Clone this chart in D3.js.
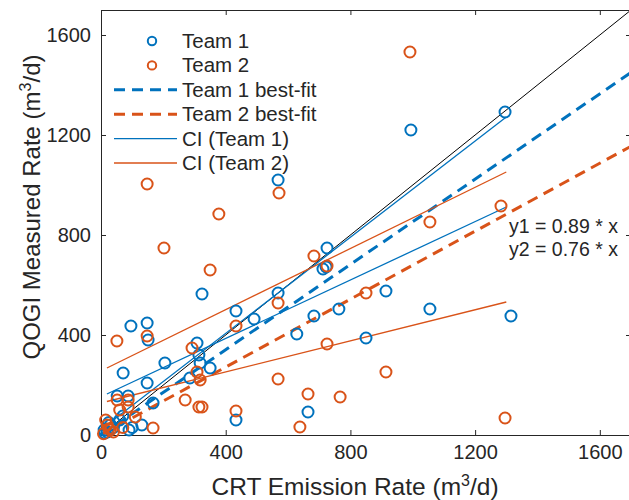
<!DOCTYPE html>
<html>
<head>
<meta charset="utf-8">
<script src="https://cdn.jsdelivr.net/npm/d3@7"></script>
<style>
  body { margin: 0; background: #fff; }
  svg text { font-family: "Liberation Sans", Arial, sans-serif; fill: #262626; }
</style>
</head>
<body>
<svg id="chart" width="629" height="500"></svg>
<script>
// axis ticks
const xTicks = [0, 400, 800, 1200, 1600];
const yTicks = [0, 400, 800, 1200, 1600];

// Team 1 measurements (CRT x, QOGI y)
const team1X = [1296, 994, 568, 725, 712, 722, 568, 324, 914, 763, 1055, 1315, 683, 433, 491, 628, 850,
  96, 148, 151, 205, 71, 148, 308, 314, 318, 350, 167, 131, 433, 664, 285,
  52, 87, 70, 30, 10, 20, 40, 60, 12, 25, 90, 100];
const team1Y = [1292, 1220, 1020, 748, 664, 672, 568, 564, 576, 504, 504, 476, 476, 496, 464, 404, 388,
  436, 448, 380, 288, 248, 208, 368, 320, 288, 268, 128, 40, 60, 92, 228,
  156, 156, 76, 40, 20, 12, 30, 60, 8, 50, 20, 30];

// Team 2 measurements
const team2X = [991, 148, 378, 202, 571, 350, 683, 725, 1055, 1283, 850, 725, 914, 767, 664, 638, 1296,
  568, 433, 433, 568, 167, 270, 314, 324, 51, 148, 292, 308, 318,
  52, 87, 87, 110, 20, 30, 40, 15, 8, 60, 70, 25];
const team2Y = [1532, 1004, 884, 748, 968, 660, 716, 676, 852, 916, 568, 364, 252, 152, 164, 32, 68,
  224, 96, 436, 528, 28, 140, 112, 112, 376, 396, 348, 252, 220,
  140, 140, 112, 72, 40, 20, 12, 60, 5, 100, 30, 25];

// fitted lines, given by their end points
const fitX = [0, 1700];
const fit1Y = [0, 1450];
const fit2Y = [0, 1155];
const oneToOneY = [0, 1700];
const ciX = [19, 1300];
const ci1UpperY = [40, 1272];
const ci1LowerY = [164, 912];
const ci2UpperY = [268, 1052];
const ci2LowerY = [134, 532];

const equations = ["y1 = 0.89 * x", "y2 = 0.76 * x"];
const legendLabels = ["Team 1", "Team 2", "Team 1 best-fit", "Team 2 best-fit", "CI (Team 1)", "CI (Team 2)"];

const blue = "#0072BD", orange = "#D95319", ink = "#262626";

const margin = {top: 10, left: 101};
const width = 530, height = 425;

const svg = d3.select("#chart");
const x = d3.scaleLinear().domain([0, 1700]).range([0, width]);
const y = d3.scaleLinear().domain([0, 1700]).range([height, 0]);

svg.append("defs").append("clipPath").attr("id", "clip")
  .append("rect").attr("width", width).attr("height", height);

const g = svg.append("g").attr("transform", `translate(${margin.left},${margin.top})`);

// axes (box with inward ticks)
const tickStyle = a => a.selectAll("path, line").attr("stroke", ink);
g.append("g").attr("transform", `translate(0,${height})`)
  .call(d3.axisBottom(x).tickValues(xTicks).tickSize(-5).tickPadding(10).tickFormat(d3.format("d")))
  .call(tickStyle)
  .selectAll("text").style("font-size", "20px").attr("fill", ink);
g.append("g")
  .call(d3.axisLeft(y).tickValues(yTicks).tickSize(-5).tickPadding(10).tickFormat(d3.format("d")))
  .call(tickStyle)
  .selectAll("text").style("font-size", "20px").attr("fill", ink);
g.append("g")
  .call(d3.axisTop(x).tickValues(xTicks).tickSize(-5).tickFormat(""))
  .call(tickStyle);
g.append("g").attr("transform", `translate(${width},0)`)
  .call(d3.axisRight(y).tickValues(yTicks).tickSize(-5).tickFormat(""))
  .call(tickStyle);
g.selectAll(".domain").attr("stroke-width", 1);

// lines
const lines = g.append("g").attr("clip-path", "url(#clip)");
const seg = (xs, ys, color, w, dash) => {
  lines.append("line")
    .attr("x1", x(xs[0])).attr("y1", y(ys[0]))
    .attr("x2", x(xs[1])).attr("y2", y(ys[1]))
    .attr("stroke", color).attr("stroke-width", w)
    .attr("stroke-dasharray", dash || null);
};

// points
const pts = g.append("g");
pts.selectAll("circle.t1")
  .data(d3.zip(team1X, team1Y))
  .join("circle")
  .attr("class", "t1")
  .attr("cx", d => x(d[0])).attr("cy", d => y(d[1]))
  .attr("r", 5.5).attr("fill", "none").attr("stroke", blue).attr("stroke-width", 2);
pts.selectAll("circle.t2")
  .data(d3.zip(team2X, team2Y))
  .join("circle")
  .attr("class", "t2")
  .attr("cx", d => x(d[0])).attr("cy", d => y(d[1]))
  .attr("r", 5.5).attr("fill", "none").attr("stroke", orange).attr("stroke-width", 2);

seg(fitX, oneToOneY, "#000", 1);
seg(fitX, fit1Y, blue, 3, "11,7");
seg(fitX, fit2Y, orange, 3, "11,7");
seg(ciX, ci1UpperY, blue, 1.3);
seg(ciX, ci1LowerY, blue, 1.3);
seg(ciX, ci2UpperY, orange, 1.3);
seg(ciX, ci2LowerY, orange, 1.3);

// equations
g.selectAll("text.eq")
  .data(equations)
  .join("text")
  .attr("class", "eq")
  .attr("x", 408).attr("y", (d, i) => 223 + i * 23)
  .style("font-size", "19.5px")
  .text(d => d);

// legend
const legendTypes = ["o1", "o2", "d1", "d2", "s1", "s2"];
const leg = g.append("g");
legendLabels.forEach((label, i) => {
  const cy = 31 + i * 24.4;
  const t = legendTypes[i];
  const color = t.endsWith("1") ? blue : orange;
  if (t[0] === "o") {
    leg.append("circle").attr("cx", 51).attr("cy", cy).attr("r", 4.2)
      .attr("fill", "none").attr("stroke", color).attr("stroke-width", 2);
  } else {
    leg.append("line").attr("x1", 13).attr("x2", 76).attr("y1", cy).attr("y2", cy)
      .attr("stroke", color)
      .attr("stroke-width", t[0] === "d" ? 3 : 1.3)
      .attr("stroke-dasharray", t[0] === "d" ? "11,7" : null);
  }
  leg.append("text").attr("x", 81).attr("y", cy + 7)
    .style("font-size", "20.5px").text(label);
});

// axis titles
const xl = svg.append("text")
  .attr("x", 355).attr("y", 495)
  .attr("text-anchor", "middle").style("font-size", "24.5px");
xl.append("tspan").text("CRT Emission Rate (m");
xl.append("tspan").attr("dy", -9).style("font-size", "16px").text("3");
xl.append("tspan").attr("dy", 9).text("/d)");

const yl = svg.append("text")
  .attr("transform", "translate(40,207) rotate(-90)")
  .attr("text-anchor", "middle").style("font-size", "24px");
yl.append("tspan").text("QOGI Measured Rate (m");
yl.append("tspan").attr("dy", -9).style("font-size", "16px").text("3");
yl.append("tspan").attr("dy", 9).text("/d)");
</script>
</body>
</html>
